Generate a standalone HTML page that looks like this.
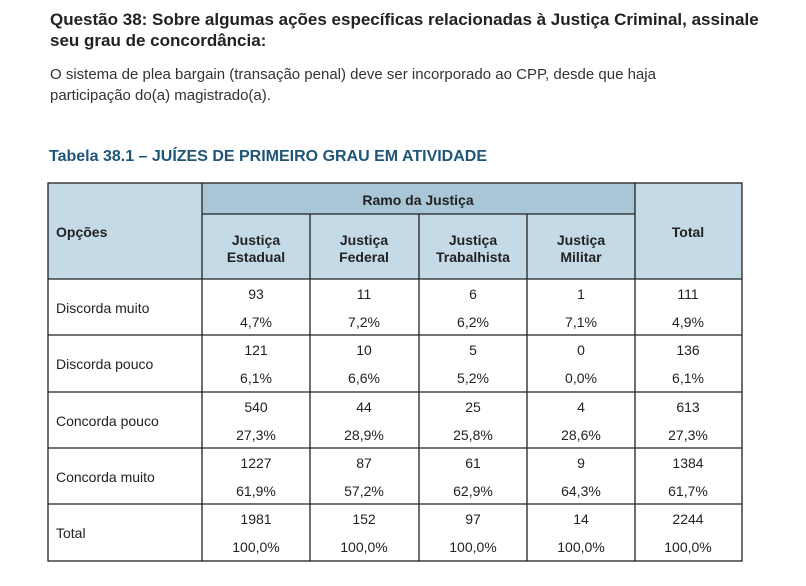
<!DOCTYPE html>
<html><head><meta charset="utf-8"><style>
body{margin:0;width:806px;height:586px;background:#fff;position:relative;font-family:"Liberation Sans",sans-serif;color:#222;overflow:hidden}
.t{position:absolute;white-space:nowrap}
h1{position:absolute;left:50px;top:9px;margin:0;font-size:17px;line-height:21px;font-weight:bold;color:#222;font-family:"Liberation Sans",sans-serif;white-space:nowrap}
p{position:absolute;left:50px;top:64px;margin:0;font-size:15px;line-height:21px;font-family:"Liberation Sans",sans-serif;color:#333;white-space:nowrap}
.tt{left:49px;top:148px;font-size:16px;font-weight:bold;color:#1f5577;font-family:"Liberation Sans",sans-serif}
svg{position:absolute;left:0;top:0}
svg text{font-family:"Liberation Sans",sans-serif;font-size:14px;fill:#222}
</style></head><body>
<h1>Questão 38: Sobre algumas ações específicas relacionadas à Justiça Criminal, assinale<br>seu grau de concordância:</h1>
<p>O sistema de plea bargain (transação penal) deve ser incorporado ao CPP, desde que haja<br>participação do(a) magistrado(a).</p>
<div class="t tt">Tabela 38.1 – JUÍZES DE PRIMEIRO GRAU EM ATIVIDADE</div>
<svg width="806" height="586">
<rect x="48" y="183" width="694" height="96" fill="#c5dae7"/>
<rect x="202" y="183" width="433" height="31" fill="#a8c6d6"/>
<g stroke="#222" stroke-width="1.3" fill="none">
<rect x="48" y="183" width="694" height="378"/>
<line x1="202" y1="183" x2="202" y2="561"/>
<line x1="635" y1="183" x2="635" y2="561"/>
<line x1="202" y1="214" x2="635" y2="214"/>
<line x1="310" y1="214" x2="310" y2="561"/>
<line x1="419" y1="214" x2="419" y2="561"/>
<line x1="527" y1="214" x2="527" y2="561"/>
<line x1="48" y1="279" x2="742" y2="279"/>
<line x1="48" y1="335" x2="742" y2="335"/>
<line x1="48" y1="392" x2="742" y2="392"/>
<line x1="48" y1="448" x2="742" y2="448"/>
<line x1="48" y1="504" x2="742" y2="504"/>
</g>
<g>
<text x="56" y="237" style="font-weight:bold">Opções</text>
<text x="418" y="205" text-anchor="middle" style="font-weight:bold">Ramo da Justiça</text>
<text x="688" y="237" text-anchor="middle" style="font-weight:bold">Total</text>
<text x="256" y="245" text-anchor="middle" style="font-weight:bold">Justiça<tspan x="256" dy="17">Estadual</tspan></text>
<text x="364" y="245" text-anchor="middle" style="font-weight:bold">Justiça<tspan x="364" dy="17">Federal</tspan></text>
<text x="473" y="245" text-anchor="middle" style="font-weight:bold">Justiça<tspan x="473" dy="17">Trabalhista</tspan></text>
<text x="581" y="245" text-anchor="middle" style="font-weight:bold">Justiça<tspan x="581" dy="17">Militar</tspan></text>
</g>
<g id="body"></g>
</svg>
<script>
const rows=["Discorda muito","Discorda pouco","Concorda pouco","Concorda muito","Total"];
const counts=[["93","11","6","1","111"],["121","10","5","0","136"],["540","44","25","4","613"],["1227","87","61","9","1384"],["1981","152","97","14","2244"]];
const pcts=[["4,7%","7,2%","6,2%","7,1%","4,9%"],["6,1%","6,6%","5,2%","0,0%","6,1%"],["27,3%","28,9%","25,8%","28,6%","27,3%"],["61,9%","57,2%","62,9%","64,3%","61,7%"],["100,0%","100,0%","100,0%","100,0%","100,0%"]];
const colX=[256,364,473,581,688];
const rowY=[279,335,392,448,504];
const g=document.getElementById('body');
const NS='http://www.w3.org/2000/svg';
function txt(x,y,s,anchor){const t=document.createElementNS(NS,'text');t.setAttribute('x',x);t.setAttribute('y',y);if(anchor)t.setAttribute('text-anchor',anchor);t.textContent=s;g.appendChild(t);return t;}
rows.forEach((r,i)=>{
  const y=rowY[i];
  const l=txt(56,y+34,r);
  
  
  counts[i].forEach((c,j)=>{
    const a=txt(colX[j],y+20,c,'middle');
    
    
    const b=txt(colX[j],y+48,pcts[i][j],'middle');
    
    
  });
});
</script>
</body></html>
